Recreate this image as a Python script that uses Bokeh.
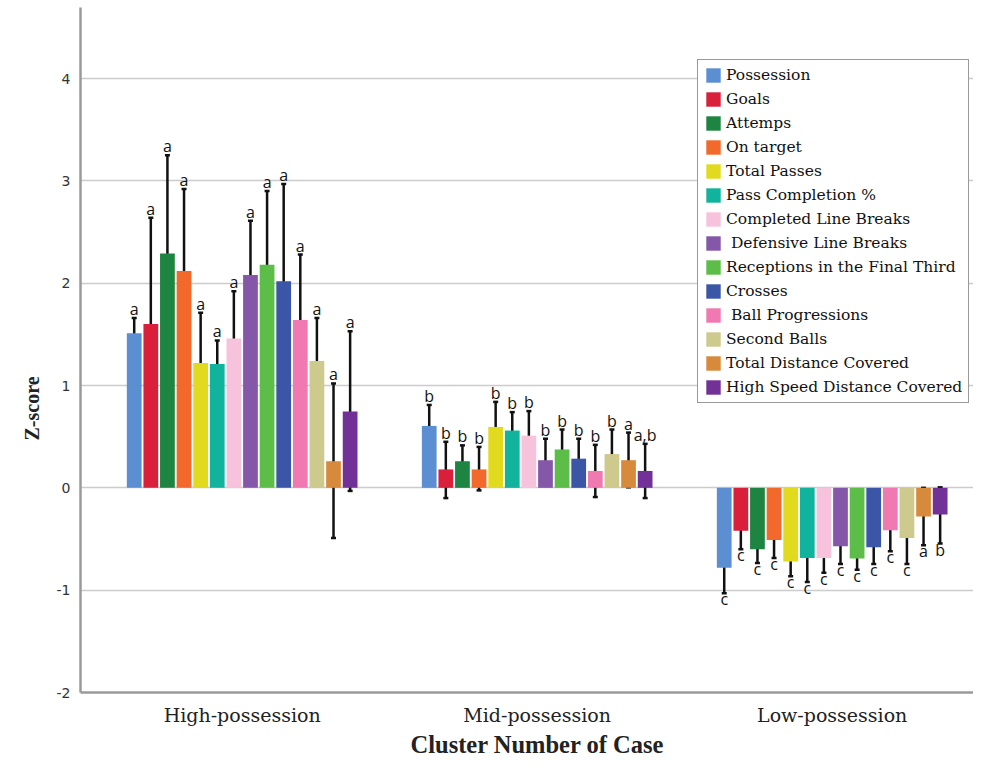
from bokeh.plotting import figure
from bokeh.models import ColumnDataSource, Whisker, TeeHead, FixedTicker, Range1d, Title
from bokeh.core.properties import value
from bokeh.embed import file_html
from bokeh.resources import INLINE

clusters = ["High-possession", "Mid-possession", "Low-possession"]
measures = ["Possession", "Goals", "Attemps", "On target", "Total Passes",
            "Pass Completion %", "Completed Line Breaks", " Defensive Line Breaks",
            "Receptions in the Final Third", "Crosses", " Ball Progressions",
            "Second Balls", "Total Distance Covered", "High Speed Distance Covered"]
colors = ["#5b8fd1", "#d91f3a", "#1e8442", "#f2692b", "#e2da1e", "#12b39d", "#f7c3dc",
          "#8457a8", "#5cbd48", "#3b56a7", "#ef79b0", "#cec98d", "#d88a3c", "#723197"]

high_mean = [1.51, 1.60, 2.29, 2.12, 1.22, 1.21, 1.46, 2.08, 2.18, 2.02, 1.64, 1.24, 0.26, 0.745]
high_upper = [1.66, 2.64, 3.25, 2.92, 1.71, 1.44, 1.92, 2.61, 2.90, 2.97, 2.28, 1.66, 1.02, 1.53]
high_lower = [1.38, 0.56, 1.34, 1.34, 0.735, 0.99, 1.00, 1.55, 1.47, 1.07, 1.02, 0.83, -0.49, -0.03]

mid_mean = [0.605, 0.18, 0.26, 0.18, 0.595, 0.56, 0.51, 0.27, 0.375, 0.285, 0.165, 0.33, 0.27, 0.165]
mid_upper = [0.81, 0.45, 0.415, 0.40, 0.84, 0.74, 0.75, 0.48, 0.57, 0.48, 0.42, 0.57, 0.54, 0.43]
mid_lower = [0.41, -0.10, 0.105, -0.025, 0.35, 0.38, 0.27, 0.06, 0.19, 0.09, -0.09, 0.10, 0.005, -0.10]

low_mean = [-0.78, -0.42, -0.60, -0.51, -0.72, -0.685, -0.685, -0.57, -0.69, -0.58, -0.415, -0.49, -0.28, -0.26]
low_upper = [-0.62, -0.245, -0.47, -0.34, -0.57, -0.455, -0.52, -0.41, -0.595, -0.425, -0.20, -0.245, 0.0, 0.005]
low_lower = [-1.03, -0.60, -0.735, -0.685, -0.865, -0.92, -0.83, -0.745, -0.80, -0.745, -0.62, -0.745, -0.56, -0.545]

high_letters = ["a", "a", "a", "a", "a", "a", "a", "a", "a", "a", "a", "a", "a", "a"]
mid_letters = ["b", "b", "b", "b", "b", "b", "b", "b", "b", "b", "b", "b", "a", "a,b"]
low_letters = ["c", "c", "c", "c", "c", "c", "c", "c", "c", "c", "c", "c", "a", "b"]

y_ticks = [-2, -1, 0, 1, 2, 3, 4]
y_tick_labels = ["-2", "-1", "0", "1", "2", "3", "4"]
x_title = "Cluster Number of Case"
y_title = "Z-score"

STEP = 0.0563
BAR_W = 0.05
n = len(measures)

p = figure(width=973, height=758, output_backend="svg", toolbar_location=None,
           x_range=Range1d(-0.548, 2.479), y_range=Range1d(-2.0, 4.694),
           min_border_left=80, min_border_right=0, min_border_top=7, min_border_bottom=66)
p.outline_line_color = None
p.background_fill_color = "white"
p.border_fill_color = "white"

means = [high_mean, mid_mean, low_mean]
uppers = [high_upper, mid_upper, low_upper]
lowers = [high_lower, mid_lower, low_lower]
letters = [high_letters, mid_letters, low_letters]

wx, wu, wl = [], [], []
tx_up, ty_up, tt_up = [], [], []
tx_dn, ty_dn, tt_dn = [], [], []
for i, m in enumerate(measures):
    off = (i - (n - 1) / 2) * STEP
    xs = [g + off for g in range(len(clusters))]
    tops = [means[g][i] for g in range(len(clusters))]
    src = ColumnDataSource(dict(x=xs, top=tops))
    p.vbar(x="x", top="top", bottom=0, width=BAR_W, source=src,
           fill_color=colors[i], line_color=None, legend_label=m)
    for g in range(len(clusters)):
        wx.append(xs[g]); wu.append(uppers[g][i]); wl.append(lowers[g][i])
        if g < 2:
            tx_up.append(xs[g]); ty_up.append(uppers[g][i]); tt_up.append(letters[g][i])
        else:
            tx_dn.append(xs[g]); ty_dn.append(lowers[g][i]); tt_dn.append(letters[g][i])

wsrc = ColumnDataSource(dict(base=wx, upper=wu, lower=wl))
w = Whisker(source=wsrc, base="base", upper="upper", lower="lower",
            line_color="#111111", line_width=2.5,
            upper_head=TeeHead(size=5, line_color="#111111", line_width=2.5),
            lower_head=TeeHead(size=5, line_color="#111111", line_width=2.5))
p.add_layout(w)

p.text(x=tx_up, y=ty_up, text=tt_up, text_align="center", text_baseline="alphabetic",
       y_offset=-9, text_font=value("Open Sans"), text_font_size="16px", text_color="#111111")
p.text(x=tx_dn, y=ty_dn, text=tt_dn, text_align="center", text_baseline="alphabetic",
       y_offset=6, text_font=value("Open Sans"), text_font_size="16px", text_color="#111111")

# axes
p.xaxis.ticker = FixedTicker(ticks=list(range(len(clusters))))
p.xaxis.major_label_overrides = {i: c for i, c in enumerate(clusters)}
p.xaxis.major_tick_line_color = None
p.xaxis.minor_tick_line_color = None
p.xaxis.axis_line_color = "#9a9a9a"
p.xaxis.axis_line_width = 2.5
p.xaxis.major_label_text_font = "DejaVu Serif"
p.xaxis.major_label_text_font_size = "19px"
p.xaxis.major_label_text_color = "#222222"
p.xaxis.major_label_standoff = 5

p.yaxis.ticker = FixedTicker(ticks=y_ticks)
p.yaxis.major_label_overrides = {t: s for t, s in zip(y_ticks, y_tick_labels)}
p.yaxis.major_tick_line_color = None
p.yaxis.minor_tick_line_color = None
p.yaxis.axis_line_color = "#9a9a9a"
p.yaxis.axis_line_width = 2.5
p.yaxis.major_label_text_font = "DejaVu Sans"
p.yaxis.major_label_text_font_size = "14px"
p.yaxis.major_label_text_color = "#333333"
p.yaxis.major_label_standoff = 4

ytitle = Title(text=y_title, align="left", offset=252, standoff=22,
               text_font="Liberation Serif", text_font_style="bold",
               text_font_size="20px", text_color="#222222")
p.add_layout(ytitle, "left")

xtitle = Title(text=x_title, align="left", offset=330, standoff=0,
               text_font="Liberation Serif", text_font_style="bold",
               text_font_size="24.5px", text_color="#222222")
p.add_layout(xtitle, "below")

p.xgrid.grid_line_color = None
p.ygrid.grid_line_color = "#cccccc"
p.ygrid.grid_line_width = 1.5

lg = p.legend[0]
lg.location = (617, 289)
lg.label_text_font = "DejaVu Serif"
lg.label_text_font_size = "15.5px"
lg.label_text_color = "#111111"
lg.glyph_width = 18
lg.glyph_height = 18
lg.label_height = 18
lg.label_standoff = 4
lg.spacing = 6
lg.padding = 6
lg.margin = 0
lg.border_line_color = "#333333"
lg.border_line_width = 1.5
lg.background_fill_alpha = 1.0

open("out.html", "w").write(file_html(p, INLINE))
